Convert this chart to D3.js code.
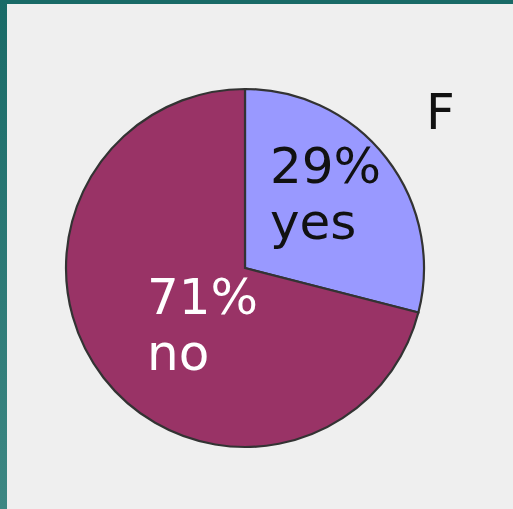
<!DOCTYPE html>
<html>
<head>
<script src="https://cdnjs.cloudflare.com/ajax/libs/d3/7.8.5/d3.min.js"></script>
<style>
  body, html { margin: 0; padding: 0; background: #efefef; }
  svg { display: block; }
</style>
</head>
<body>
<script>
var labels = ["yes", "no"];
var values = [29, 71];
var colors = ["#9999ff", "#993366"];
var textColors = ["#111111", "#ffffff"];
var title = "F";

var width = 513, height = 509;
var cx = 245, cy = 268, r = 179;

var svg = d3.select("body").append("svg")
    .attr("width", width)
    .attr("height", height);

var defs = svg.append("defs");
var grad = defs.append("linearGradient")
    .attr("id", "edge").attr("x1", 0).attr("y1", 0).attr("x2", 0).attr("y2", 1);
grad.append("stop").attr("offset", "0%").attr("stop-color", "#196a67");
grad.append("stop").attr("offset", "100%").attr("stop-color", "#3d8783");

svg.append("rect").attr("width", width).attr("height", height).attr("fill", "#efefef");
svg.append("rect").attr("x", 0).attr("y", 0).attr("width", width).attr("height", 4).attr("fill", "#196a67");
svg.append("rect").attr("x", 0).attr("y", 0).attr("width", 7).attr("height", height).attr("fill", "url(#edge)");

var pie = d3.pie().sort(null).value(function(d) { return d; });
var arc = d3.arc().innerRadius(0).outerRadius(r);
var arcs = pie(values);

var g = svg.append("g").attr("transform", "translate(" + cx + "," + cy + ")");

g.selectAll("path")
    .data(arcs)
    .enter().append("path")
    .attr("d", arc)
    .attr("fill", function(d, i) { return colors[i]; })
    .attr("stroke", "#333333")
    .attr("stroke-width", 2.2);

// label offsets relative to the centre
var labelPos = [[25, -85], [-98, 46]];

var lab = g.selectAll("text.lab")
    .data(arcs)
    .enter().append("text")
    .attr("class", "lab")
    .attr("x", function(d, i) { return labelPos[i][0]; })
    .attr("y", function(d, i) { return labelPos[i][1]; })
    .attr("fill", function(d, i) { return textColors[i]; })
    .style("font-family", "DejaVu Sans, Verdana, sans-serif")
    .style("font-size", "50px");

lab.append("tspan")
    .text(function(d, i) { return values[i] + "%"; });
lab.append("tspan")
    .attr("x", function(d, i) { return labelPos[i][0]; })
    .attr("dy", 56)
    .text(function(d, i) { return labels[i]; });

svg.append("text")
    .attr("x", 426)
    .attr("y", 129)
    .attr("fill", "#111111")
    .style("font-family", "DejaVu Sans, Verdana, sans-serif")
    .style("font-size", "50px")
    .text(title);
</script>
</body>
</html>
